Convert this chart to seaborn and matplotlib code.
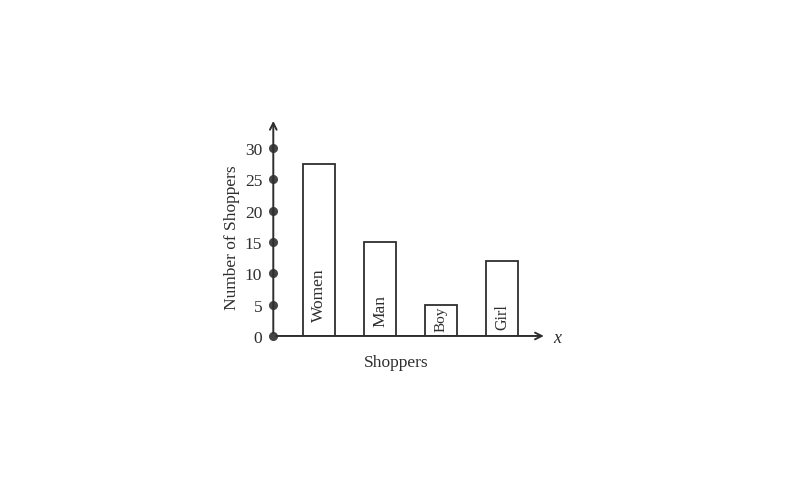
import matplotlib
matplotlib.use('Agg')
import matplotlib.pyplot as plt
import seaborn as sns
import pandas as pd

# data
shoppers = ['Women', 'Man', 'Boy', 'Girl']
counts = [27.5, 15, 5, 12]
y_ticks = [0, 5, 10, 15, 20, 25, 30]

sns.set_theme(style='white')
plt.rcParams['font.family'] = ['Liberation Serif', 'DejaVu Serif']

ink = '#2e2e2e'
df = pd.DataFrame({'shopper': shoppers, 'count': counts})

fig = plt.figure(figsize=(7.86, 4.85), dpi=100)
ax = fig.add_axes([0.3477, 0.3052, 0.361, 0.4647])

sns.barplot(data=df, x='shopper', y='count', color='white', edgecolor=ink,
            linewidth=1.3, width=0.52, ax=ax, saturation=1)

x0 = -0.75
ax.set_xlim(x0, 3.9)
ax.set_ylim(0, 36)
for s in ax.spines.values():
    s.set_visible(False)

# axes with arrows
ax.annotate('', xy=(x0, 34.8), xytext=(x0, 0),
            arrowprops=dict(arrowstyle='->', color=ink, lw=1.4), annotation_clip=False)
ax.annotate('', xy=(3.73, 0), xytext=(x0, 0),
            arrowprops=dict(arrowstyle='->', color=ink, lw=1.4), annotation_clip=False)
ax.text(3.83, -0.3, 'x', style='italic', fontsize=13, color=ink, ha='left', va='center')

# dots on the y axis
ax.plot([x0] * len(y_ticks), y_ticks, 'o', color='#444444', markersize=5.5, clip_on=False)

ax.set_yticks(y_ticks)
ax.set_yticklabels([str(t) for t in y_ticks], fontsize=12.5, color=ink)
ax.tick_params(axis='y', length=0, pad=8)
ax.set_xticks([])
ax.set_xlabel('Shoppers', fontsize=12.5, color=ink)
ax.xaxis.set_label_coords(0.432, -0.08)
ax.set_ylabel('Number of Shoppers', fontsize=12.5, color=ink)
ax.yaxis.set_label_coords(-0.118, 0.44)

# names written inside the bars
name_bottom = [2.4, 1.55, 0.85, 1.1]
name_size = [12.5, 12.5, 11, 11.5]
for i, name in enumerate(shoppers):
    ax.text(i, name_bottom[i], name, rotation=90, ha='center', va='bottom',
            fontsize=name_size[i], color=ink)

fig.savefig('out.png', dpi=100)
